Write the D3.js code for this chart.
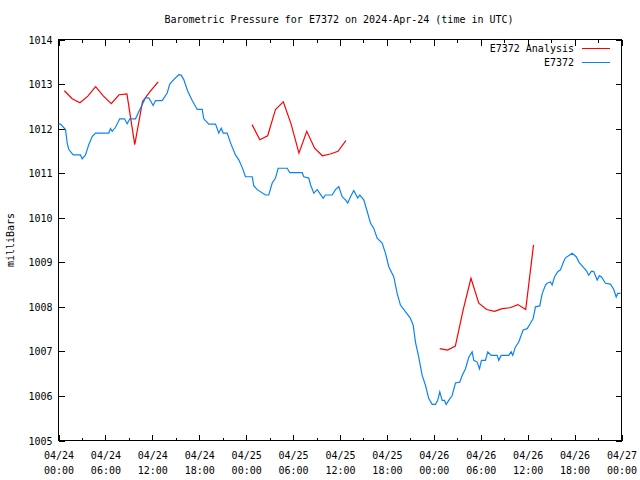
<!DOCTYPE html>
<html>
<head>
<meta charset="utf-8">
<script src="https://cdn.jsdelivr.net/npm/d3@7"></script>
<style>
  html, body { margin: 0; padding: 0; background: #fff; }
  svg { display: block; }
  text { font-family: "DejaVu Sans Mono", "Liberation Mono", monospace; font-size: 10px; fill: #000; }
</style>
</head>
<body>
<svg id="chart" width="640" height="480"></svg>
<script>
// ---------------- DATA ----------------
const chartTitle = "Barometric Pressure for E7372 on 2024-Apr-24 (time in UTC)";
const yAxisTitle = "milliBars";
const startTime = "2024-04-24T00:00:00Z";
const endTime = "2024-04-27T00:00:00Z";
const yTicks = [1005, 1006, 1007, 1008, 1009, 1010, 1011, 1012, 1013, 1014];
const seriesNames = ["E7372 Analysis", "E7372"];

// E7372 Analysis: hours since start, pressure (mb); three separate runs
const analysisHours1 = [0.75, 1.75, 2.75, 3.75, 4.75, 5.75, 6.75, 7.75, 8.75, 9.75, 10.75, 11.75, 12.75];
const analysisValues1 = [1012.85, 1012.67, 1012.58, 1012.73, 1012.94, 1012.73, 1012.56, 1012.76, 1012.78, 1011.64, 1012.61, 1012.84, 1013.05];
const analysisHours2 = [24.75, 25.75, 26.75, 27.75, 28.75, 29.75, 30.75, 31.75, 32.75, 33.75, 34.75, 35.75, 36.75];
const analysisValues2 = [1012.09, 1011.75, 1011.84, 1012.43, 1012.60, 1012.10, 1011.45, 1011.94, 1011.56, 1011.39, 1011.43, 1011.49, 1011.73];
const analysisHours3 = [48.75, 49.75, 50.75, 51.75, 52.75, 53.75, 54.75, 55.75, 56.75, 57.75, 58.75, 59.75, 60.75];
const analysisValues3 = [1007.06, 1007.03, 1007.12, 1007.93, 1008.64, 1008.08, 1007.94, 1007.90, 1007.96, 1007.98, 1008.05, 1007.94, 1009.39];

// E7372 observations: hours since start, pressure (mb)
const obsHours = [0.0, 0.26, 0.9, 1.11, 1.32, 1.88, 2.81, 3.03, 3.45, 3.87, 4.31, 4.73, 6.43, 6.65, 6.87, 7.29, 7.84, 8.44, 8.79, 9.12,
  9.85, 10.40, 11.13, 11.55, 12.11, 12.40, 13.26, 13.90, 14.23, 14.74, 15.38, 15.69, 16.02, 16.53, 17.10, 17.74, 18.38, 18.58, 19.22, 20.08,
  20.50, 20.81, 21.06, 21.57, 22.00, 22.63, 23.06, 23.49, 23.91, 24.77, 24.97, 25.41, 26.47, 26.89, 27.33, 27.75, 28.09, 29.25, 29.58, 31.16,
  31.37, 32.01, 32.23, 32.65, 33.08, 33.85, 34.14, 35.00, 35.42, 35.84, 36.28, 36.70, 36.99, 37.34, 37.76, 38.27, 38.53, 39.04, 39.48, 39.90,
  40.32, 40.75, 41.39, 41.82, 42.24, 42.88, 43.31, 43.73, 44.37, 45.01, 45.36, 45.65, 46.07, 46.51, 46.93, 47.35, 47.79, 48.21, 48.50, 48.76,
  49.07, 49.36, 49.58, 49.91, 50.34, 50.77, 51.32, 51.62, 52.05, 52.47, 52.90, 53.11, 53.54, 53.84, 54.09, 54.60, 54.90, 55.33, 56.10, 56.30,
  56.61, 57.58, 57.89, 58.09, 58.44, 58.86, 59.42, 59.94, 60.36, 60.70, 61.00, 61.55, 61.85, 62.28, 62.49, 62.92, 63.13, 63.43, 63.85, 64.19,
  64.54, 64.83, 65.69, 66.24, 66.53, 66.97, 67.52, 67.81, 68.16, 68.45, 68.89, 69.18, 69.44, 69.95, 70.59, 71.01, 71.32, 71.52, 71.87];
const obsValues = [1012.10, 1012.10, 1011.98, 1011.68, 1011.53, 1011.41, 1011.41, 1011.32, 1011.41, 1011.64, 1011.82, 1011.90, 1011.90, 1012.00, 1011.94, 1012.03, 1012.22, 1012.22, 1012.11, 1012.22,
  1012.22, 1012.43, 1012.69, 1012.69, 1012.52, 1012.63, 1012.63, 1012.80, 1013.00, 1013.10, 1013.21, 1013.20, 1013.10, 1012.84, 1012.63, 1012.43, 1012.43, 1012.22, 1012.10, 1012.10,
  1011.90, 1012.01, 1011.90, 1011.90, 1011.68, 1011.41, 1011.30, 1011.13, 1010.92, 1010.92, 1010.72, 1010.63, 1010.51, 1010.51, 1010.78, 1010.89, 1011.11, 1011.11, 1011.01, 1011.01,
  1010.92, 1010.89, 1010.74, 1010.55, 1010.63, 1010.44, 1010.51, 1010.51, 1010.63, 1010.70, 1010.47, 1010.40, 1010.33, 1010.47, 1010.61, 1010.44, 1010.51, 1010.40, 1010.14, 1009.88,
  1009.76, 1009.54, 1009.43, 1009.20, 1008.90, 1008.67, 1008.30, 1008.04, 1007.89, 1007.74, 1007.59, 1007.21, 1006.87, 1006.46, 1006.24, 1005.94, 1005.81, 1005.81, 1005.90, 1006.09,
  1005.90, 1005.90, 1005.81, 1005.90, 1006.01, 1006.29, 1006.31, 1006.46, 1006.61, 1006.87, 1006.99, 1006.80, 1006.76, 1006.61, 1006.80, 1006.80, 1006.99, 1006.91, 1006.91, 1006.80,
  1006.91, 1006.91, 1006.99, 1006.91, 1007.10, 1007.21, 1007.48, 1007.51, 1007.63, 1007.74, 1008.00, 1008.02, 1008.29, 1008.49, 1008.53, 1008.56, 1008.49, 1008.67, 1008.79, 1008.83,
  1008.99, 1009.10, 1009.20, 1009.12, 1009.01, 1008.92, 1008.81, 1008.71, 1008.80, 1008.79, 1008.60, 1008.70, 1008.67, 1008.53, 1008.51, 1008.39, 1008.22, 1008.30, 1008.30];

// ---------------- CHART ----------------
(function () {
const colors = { analysis: "#ff0000", obs: "#0a84f5" };
const svg = d3.select("#chart");
const mLeft = 58.5, mRight = 621.5, mTop = 39.5, mBottom = 440.5;

const t0 = new Date(startTime), t1 = new Date(endTime);
const toDate = h => new Date(t0.getTime() + h * 3600e3);
const x = d3.scaleUtc().domain([t0, t1]).range([mLeft, mRight]);
const y = d3.scaleLinear().domain([1005, 1014]).range([mBottom, mTop]);

// Title
svg.append("text").attr("x", 339).attr("y", 23).attr("text-anchor", "middle").text(chartTitle);
// Y-axis title
svg.append("text").attr("transform", "translate(14,240) rotate(-90)").attr("text-anchor", "middle").text(yAxisTitle);

const majorTicks = d3.utcHours(t0, d3.utcHour.offset(t1, 1), 6).filter(d => d <= t1);
const minorTicks = d3.utcHours(t0, t1, 3).filter(d => d.getUTCHours() % 6 === 3);

function styleAxis(g) {
  g.select(".domain").remove();
  g.selectAll(".tick line").attr("stroke", "#000").attr("shape-rendering", "crispEdges");
}

// bottom axis major with labels
const fmtDate = d3.utcFormat("%m/%d"), fmtTime = d3.utcFormat("%H:%M");
const gx = svg.append("g").attr("transform", `translate(0,${mBottom})`)
  .call(d3.axisBottom(x).tickValues(majorTicks).tickSizeInner(-6).tickSizeOuter(0).tickPadding(0).tickFormat(""));
styleAxis(gx);
gx.attr("font-family", null).attr("font-size", null);
gx.selectAll(".tick text").remove();
gx.selectAll(".tick").append("text")
  .attr("text-anchor", "middle")
  .each(function(d) {
    const t = d3.select(this);
    t.append("tspan").attr("x", 0).attr("y", 18).text(fmtDate(d));
    t.append("tspan").attr("x", 0).attr("y", 33).text(fmtTime(d));
  });
// bottom minor
styleAxis(svg.append("g").attr("transform", `translate(0,${mBottom})`)
  .call(d3.axisBottom(x).tickValues(minorTicks).tickSizeInner(-3).tickSizeOuter(0).tickFormat("")));
// top mirror
styleAxis(svg.append("g").attr("transform", `translate(0,${mTop})`)
  .call(d3.axisTop(x).tickValues(majorTicks).tickSizeInner(-6).tickSizeOuter(0).tickFormat("")));
styleAxis(svg.append("g").attr("transform", `translate(0,${mTop})`)
  .call(d3.axisTop(x).tickValues(minorTicks).tickSizeInner(-3).tickSizeOuter(0).tickFormat("")));

// left axis
const gy = svg.append("g").attr("transform", `translate(${mLeft},0)`)
  .call(d3.axisLeft(y).tickValues(yTicks).tickSizeInner(-6).tickSizeOuter(0).tickPadding(6).tickFormat(d3.format("d")));
styleAxis(gy);
gy.attr("font-family", null).attr("font-size", null);
gy.selectAll(".tick text").attr("fill", "#000").attr("x", -6).attr("dy", "0.35em");
// right mirror
styleAxis(svg.append("g").attr("transform", `translate(${mRight},0)`)
  .call(d3.axisRight(y).tickValues(yTicks).tickSizeInner(-6).tickSizeOuter(0).tickFormat("")));

// border
svg.append("rect").attr("x", mLeft).attr("y", mTop).attr("width", mRight - mLeft).attr("height", mBottom - mTop)
  .attr("fill", "none").attr("stroke", "#000").attr("shape-rendering", "crispEdges");

// lines
const line = d3.line().x(d => x(toDate(d[0]))).y(d => y(d[1]));
const analysisRuns = [[analysisHours1, analysisValues1], [analysisHours2, analysisValues2], [analysisHours3, analysisValues3]];
analysisRuns.forEach(([hs, vs]) => {
  svg.append("path").datum(hs.map((h, i) => [h, vs[i]]))
    .attr("d", line).attr("fill", "none").attr("stroke", colors.analysis).attr("stroke-width", 1.2);
});
svg.append("path").datum(obsHours.map((h, i) => [h, obsValues[i]]))
  .attr("d", line).attr("fill", "none").attr("stroke", colors.obs).attr("stroke-width", 1.2);

// legend
const legend = [{ name: seriesNames[0], color: colors.analysis, yy: 48.5 }, { name: seriesNames[1], color: colors.obs, yy: 62.5 }];
legend.forEach(l => {
  svg.append("text").attr("x", 574).attr("y", l.yy).attr("dy", "0.35em").attr("text-anchor", "end").text(l.name);
  svg.append("line").attr("x1", 582).attr("x2", 610).attr("y1", l.yy).attr("y2", l.yy)
    .attr("stroke", l.color).attr("stroke-width", 1).attr("shape-rendering", "crispEdges");
});
})();
</script>
</body>
</html>
